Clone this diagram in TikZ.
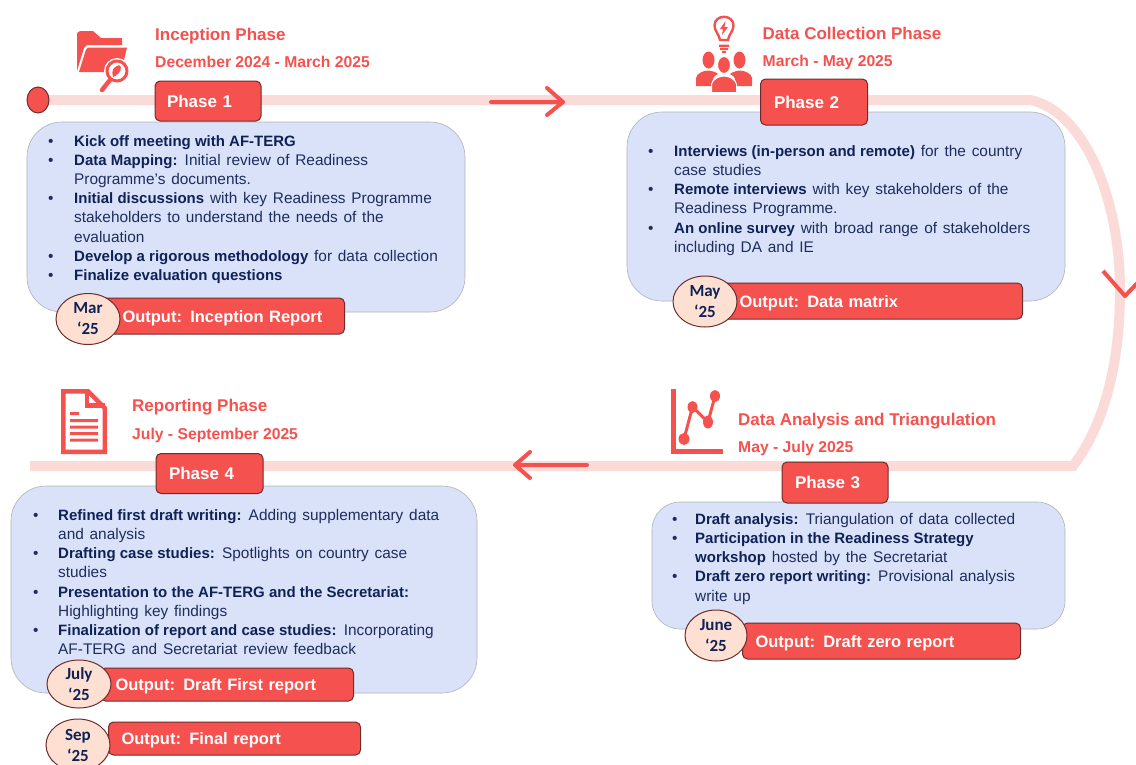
\documentclass[tikz,border=0pt]{standalone}
\usepackage{fontspec}
\setmainfont{Liberation Sans}[WordSpace=1.35,BoldFeatures={WordSpace=1}]
\newfontfamily\monthfont{Carlito}
\usetikzlibrary{shapes.geometric}
\definecolor{cred}{HTML}{F5514E}
\definecolor{cdark}{HTML}{6E2C2C}
\definecolor{ctrack}{HTML}{FADBD8}
\definecolor{cblue}{HTML}{D9E2F8}
\definecolor{cpeach}{HTML}{FDE0D2}
\definecolor{cnavy}{HTML}{0F2257}
\definecolor{cbody}{HTML}{1E2D5E}
\newcommand{\bl}[1]{\makebox[#1pt][l]{•}}
\newcommand{\bb}[1]{{\fontsize{15}{19.2}\selectfont\textbf{\textcolor{cnavy}{#1}}}}
\tikzset{
  track/.style={ctrack,line width=10pt,line join=miter},
  flow/.style={cred,line width=4pt,line cap=round,line join=round},
  icon/.style={fill=cred,draw=none},
  iconline/.style={draw=cred,line width=3pt,fill=none},
  bluebox/.style={fill=cblue,draw=black!30,line width=.6pt,inner sep=0pt},
  redbox/.style={fill=cred,draw=cdark,line width=1pt,rounded corners=5pt,text=white,font=\fontsize{16.5}{20}\selectfont\bfseries,align=left,inner ysep=0pt,text height=12pt,text depth=0pt},
  oval/.style={ellipse,fill=cpeach,draw=cdark,line width=1pt,inner sep=0pt,text=cnavy,align=center,font=\monthfont\fontsize{17}{21}\selectfont\bfseries},
  head/.style={text=cred,anchor=west,inner sep=0pt,text height=12pt,text depth=3pt,font=\fontsize{17}{20}\selectfont\bfseries},
  date/.style={text=cred,anchor=west,inner sep=0pt,text height=12pt,text depth=3pt,font=\fontsize{15.7}{20}\selectfont\bfseries},
  body/.style={text=cbody,anchor=north west,inner sep=0pt,align=left,font=\fontsize{15.4}{19.2}\selectfont},
}
\begin{document}
\begin{tikzpicture}[x=1pt,y=-1pt]
\useasboundingbox (0,0) rectangle (1136,764);
\clip (0,0) rectangle (1136,764);
% track
\coordinate (t0) at (38,100);
\coordinate (t1) at (1030,100);
\coordinate (t2) at (1120,290);
\coordinate (t3) at (1073,466);
\coordinate (t4) at (30,466);
\draw[track] (t0) -- (t1) .. controls (1082,110) and (1120,195) .. (t2) .. controls (1120,365) and (1104,425) .. (t3) -- (t4);
% flow arrows
\coordinate (a1s) at (491,102); \coordinate (a1e) at (563,102);
\draw[flow] (a1s) -- (a1e) (547,88) -- (a1e) -- (547,115);
\coordinate (a2s) at (587,465); \coordinate (a2e) at (515,465);
\draw[flow] (a2s) -- (a2e) (530,452) -- (a2e) -- (530,478);
\coordinate (a3) at (1125,296);
\draw[flow,line cap=butt] (1103,271) -- (a3) -- (1145,275);
% start dot
\node[ellipse,fill=cred,draw=cdark,line width=1pt,minimum width=22pt,minimum height=26pt,inner sep=0pt] (start) at (t0) {};
% blue panels
\node[bluebox,rounded corners=35pt,minimum width=438pt,minimum height=190pt] (p1) at (246,217) {};
\node[bluebox,rounded corners=35pt,minimum width=438pt,minimum height=189pt] (p2) at (846,206.5) {};
\node[bluebox,rounded corners=28pt,minimum width=413pt,minimum height=127pt] (p3) at (858.5,565.5) {};
\node[bluebox,rounded corners=35pt,minimum width=466pt,minimum height=207pt] (p4) at (244,589.5) {};
% phase boxes
\node[redbox,text width=82pt,inner xsep=12pt,minimum height=40pt] (ph1) at (208,101) {\fontsize{17}{20}\selectfont Phase 1};
\node[redbox,text width=80pt,inner xsep=13.5pt,minimum height=46pt] (ph2) at (814,102) {\fontsize{17}{20}\selectfont Phase 2};
\node[redbox,text width=80pt,inner xsep=13pt,minimum height=41pt] (ph3) at (835,482.5) {\fontsize{17}{20}\selectfont Phase 3};
\node[redbox,text width=81pt,inner xsep=13pt,minimum height=40pt] (ph4) at (209.5,473.5) {\fontsize{17}{20}\selectfont Phase 4};
% headings
\node[head] (h1) at (155,35.5) {Inception Phase};
\node[date] (d1) at (155,62.8) {December 2024 - March 2025};
\node[head] (h2) at (762.5,34.8) {Data Collection Phase};
\node[date] (d2) at (762.5,62.2) {March - May 2025};
\node[head] (h3) at (738,420.5) {Data Analysis and Triangulation};
\node[date] (d3) at (738,448.2) {May - July 2025};
\node[head] (h4) at (132,407.2) {Reporting Phase};
\node[date] (d4) at (132,434.8) {July - September 2025};
% body texts
\node[body] (b1) at (48,135) {%
\bl{26}\bb{Kick off meeting with AF-TERG}\\
\bl{26}\bb{Data Mapping:} Initial review of Readiness\\
\hspace*{26pt}Programme’s documents.\\
\bl{26}\bb{Initial discussions} with key Readiness Programme\\
\hspace*{26pt}stakeholders to understand the needs of the\\
\hspace*{26pt}evaluation\\
\bl{26}\bb{Develop a rigorous methodology} for data collection\\
\bl{26}\bb{Finalize evaluation questions}};
\node[body] (b2) at (648,145) {%
\bl{26}\bb{Interviews (in-person and remote)} for the country\\
\hspace*{26pt}case studies\\
\bl{26}\bb{Remote interviews} with key stakeholders of the\\
\hspace*{26pt}Readiness Programme.\\
\bl{26}\bb{An online survey} with broad range of stakeholders\\
\hspace*{26pt}including DA and IE};
\node[body] (b3) at (672,513) {%
\bl{23}\bb{Draft analysis:} Triangulation of data collected\\
\bl{23}\bb{Participation in the Readiness Strategy}\\
\hspace*{23pt}\bb{workshop} hosted by the Secretariat\\
\bl{23}\bb{Draft zero report writing:} Provisional analysis\\
\hspace*{23pt}write up};
\node[body] (b4) at (33,509) {%
\bl{25}\bb{Refined first draft writing:} Adding supplementary data\\
\hspace*{25pt}and analysis\\
\bl{25}\bb{Drafting case studies:} Spotlights on country case\\
\hspace*{25pt}studies\\
\bl{25}\bb{Presentation to the AF-TERG and the Secretariat:}\\
\hspace*{25pt}Highlighting key findings\\
\bl{25}\bb{Finalization of report and case studies:} Incorporating\\
\hspace*{25pt}AF-TERG and Secretariat review feedback};
% outputs
\node[redbox,anchor=west,text width=200pt,inner xsep=22pt,minimum height=36pt] (o1) at (100,316) {Output: Inception Report};
\node[redbox,anchor=west,text width=263pt,inner xsep=20pt,minimum height=36pt] (o2) at (719,301) {Output: Data matrix};
\node[redbox,anchor=west,text width=252pt,inner xsep=13pt,minimum height=36pt] (o3) at (742,641) {Output: Draft zero report};
\node[redbox,anchor=west,text width=223pt,inner xsep=15pt,minimum height=33pt] (o4) at (100,684.5) {Output: Draft First report};
\node[redbox,anchor=west,text width=226pt,inner xsep=13pt,minimum height=33pt] (o5) at (108,738.5) {Output: Final report};
% ovals
\node[oval,minimum width=64pt,minimum height=51pt] (m1) at (88,319) {Mar\\‘25};
\node[oval,minimum width=64pt,minimum height=51pt] (m2) at (705,301.5) {May\\‘25};
\node[oval,minimum width=62pt,minimum height=51pt] (m3) at (716,635.5) {June\\‘25};
\node[oval,minimum width=64pt,minimum height=48pt] (m4) at (79,684) {July\\‘25};
\node[oval,minimum width=64pt,minimum height=52pt] (m5) at (78,745) {Sep\\‘25};
% icon: folder with magnifier
\fill[icon] (77,71) -- (77,33) -- (80,31) -- (93,31) -- (101,38) -- (122,38) -- (122,45) -- (87,45) -- (84,48) -- cycle;
\fill[icon] (79,72) -- (86,49.5) -- (88,47.5) -- (127,47.5) -- (124,60) -- (116,72) -- cycle;
\fill[white] (117,71) circle (13pt);
\draw[iconline] (117,71) circle (10pt);
\fill[icon] (119,65) .. controls (123,66) and (121,74) .. (113,77) .. controls (111,71) and (113,67) .. (119,65) -- cycle;
\draw[cred,line width=4.5pt,line cap=round] (110,80) -- (102,90);
% icon: bulb and people
\draw[iconline,line width=2.4pt] (720,40) .. controls (719,34) and (714.5,31) .. (714.5,25.5) .. controls (714.5,20) and (719,16.8) .. (724,16.8) .. controls (729,16.8) and (733.5,20) .. (733.5,25.5) .. controls (733.5,31) and (729,34) .. (728,40) -- cycle;
\fill[icon] (725.5,21) -- (720,29) -- (723,29) -- (722,35) -- (728,27) -- (724.5,27) -- cycle;
\fill[icon] (719,44.5) rectangle (729,47) (720,48) rectangle (728,50) (722,51) rectangle (726,53);
\fill[icon] (708.5,60) ellipse (6pt and 8.5pt) (739.5,60) ellipse (6pt and 8.5pt);
\fill[icon] (696,86) -- (696,78) .. controls (697,73) and (703,71) .. (708,70.5) .. controls (712,71) and (716,72) .. (718,74) .. controls (713,76) and (712,80) .. (712,86) -- cycle;
\fill[icon] (752,86) -- (752,78) .. controls (751,73) and (745,71) .. (740,70.5) .. controls (736,71) and (732,72) .. (730,74) .. controls (735,76) and (736,80) .. (736,86) -- cycle;
\filldraw[fill=cred,draw=white,line width=1pt] (724,65) ellipse (6.5pt and 8.5pt);
\filldraw[fill=cred,draw=white,line width=1pt] (711.5,92.5) -- (711.5,84) .. controls (713,79) and (719,76) .. (724,76) .. controls (729,76) and (735,79) .. (736.5,84) -- (736.5,92.5) -- cycle;
% icon: chart
\draw[cred,line width=5pt] (673.5,389) -- (673.5,451.5) -- (723,451.5);
\draw[cred,line width=3pt] (684,439) -- (692.5,407) -- (708,422) -- (715,396);
\fill[icon] (684,439) ellipse (5.5pt and 6pt) (692.5,407) ellipse (5pt and 6pt) (708,422) ellipse (5pt and 6.5pt) (715,396) ellipse (5pt and 6pt);
% icon: document
\draw[iconline,line width=4.5pt] (63.3,391.3) -- (88,391.3) -- (104.8,408) -- (104.8,451.8) -- (63.3,451.8) -- cycle;
\draw[cred,line width=4.5pt] (87,391) -- (87,405.5) -- (105,405.5);
\fill[icon] (70,412) rectangle (79,415) (70,419) rectangle (98,422) (70,425.5) rectangle (98,428.5) (70,432) rectangle (98,435) (70,438.5) rectangle (98,441.5);
\end{tikzpicture}
\end{document}
